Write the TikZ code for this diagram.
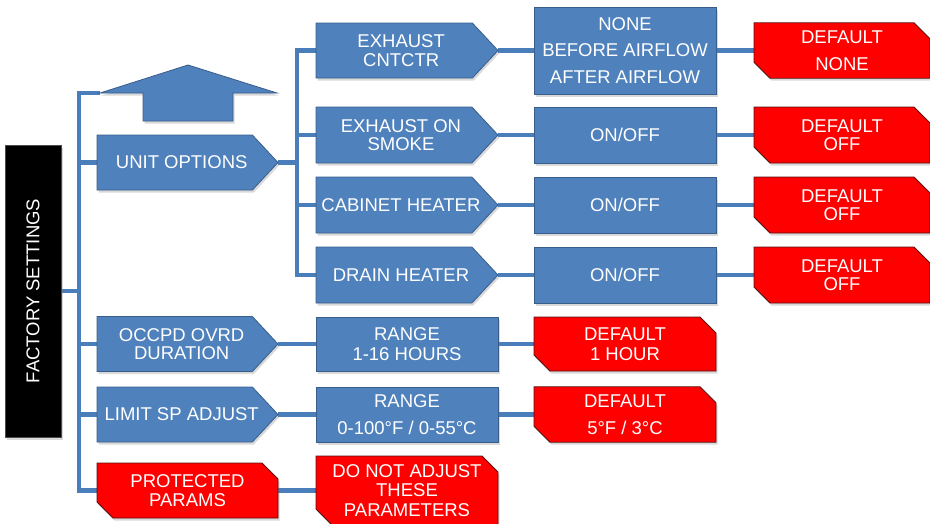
\documentclass[tikz,border=0pt]{standalone}
\usepackage{fontspec}
\setmainfont{Liberation Sans}
\usetikzlibrary{shapes.arrows,shapes.misc,shapes.symbols,shadows,backgrounds}
\definecolor{bluef}{HTML}{4F81BD}
\definecolor{blued}{HTML}{385D8A}
\definecolor{redf}{HTML}{FF0000}
\definecolor{redd}{HTML}{5A1010}
\definecolor{linec}{HTML}{4A7EBB}
\tikzset{
  txt/.style={text=white, font=\fontsize{18.5}{18.5}\selectfont, align=center,
    inner sep=0pt, outer sep=0pt},
  base/.style={txt, line width=0.8pt,
    drop shadow={shadow xshift=1.5pt, shadow yshift=-2.5pt, opacity=0.3}},
  penta/.style={base, signal, signal to=east, signal pointer angle=94,
    fill=bluef, draw=blued, minimum width=181pt, minimum height=55pt, anchor=west},
  ptext/.style={label={[txt, xshift=7pt]center:#1}},
  bluebox/.style={base, rectangle, fill=bluef, draw=blued, minimum width=182pt},
  redbox/.style={base, chamfered rectangle,
    chamfered rectangle corners={north east,south west},
    chamfered rectangle xsep=8pt, chamfered rectangle ysep=8pt,
    fill=redf, draw=redd},
  fsbox/.style={base, rectangle, fill=black, draw=black!70,
    minimum width=56pt, minimum height=292pt},
  conn/.style={draw=linec, line width=4.5pt},
}
\begin{document}
\begin{tikzpicture}[x=1pt,y=-1pt]
\useasboundingbox (0,0) rectangle (930,523);

% left column
\node[fsbox] (fs) at (33,291) {\rotatebox{90}{FACTORY SETTINGS}};

% up arrow
\path[fill=bluef, draw=blued, line width=0.8pt,
  drop shadow={shadow xshift=1.5pt, shadow yshift=-2.5pt, opacity=0.3}]
  (100,93) -- (188,65) -- (277,93) -- (233,93) -- (233,121)
  -- (143,121) -- (143,93) -- cycle;
\coordinate (aw) at (100,93);

% level 1
\node[penta, ptext={UNIT OPTIONS}] (uo) at (97,162.5) {};
\node[penta, ptext={OCCPD OVRD\\DURATION}] (occ) at (97,344) {};
\node[penta, ptext={LIMIT SP ADJUST}] (lim) at (97,414.5) {};
\node[redbox, minimum width=181pt, minimum height=55pt] (prot) at (187.5,490.5) {PROTECTED\\PARAMS};

% level 2
\node[penta, minimum width=182pt, ptext={EXHAUST\\CNTCTR}] (exc) at (316,50.5) {};
\node[penta, minimum width=182pt, minimum height=56pt, ptext={EXHAUST ON\\SMOKE}] (exs) at (316,135) {};
\node[penta, minimum width=182pt, minimum height=56pt, ptext={CABINET HEATER}] (cab) at (316,205) {};
\node[penta, minimum width=182pt, minimum height=56pt, ptext={DRAIN HEATER}] (drn) at (316,275) {};

\node[bluebox, minimum height=54pt] (rng1) at (407,344) {RANGE\\[1pt]1-16 HOURS};
\node[bluebox, minimum height=55pt] (rng2) at (407,414.5) {RANGE\\[8pt]0-100°F / 0-55°C};
\node[redbox, minimum width=182pt, minimum height=69pt] (dna) at (407,490.5) {DO NOT ADJUST\\[1pt]THESE\\[1pt]PARAMETERS};

% level 3
\node[bluebox, minimum height=87pt] (o1) at (625,50.5) {NONE\\[8pt]BEFORE AIRFLOW\\[8pt]AFTER AIRFLOW};
\node[bluebox, minimum height=56pt] (o2) at (625,135) {ON/OFF};
\node[bluebox, minimum height=56pt] (o3) at (625,205) {ON/OFF};
\node[bluebox, minimum height=56pt] (o4) at (625,275) {ON/OFF};

\node[redbox, minimum width=182pt, minimum height=54pt] (def1) at (625,344) {DEFAULT\\[1pt]1 HOUR};
\node[redbox, minimum width=182pt, minimum height=55pt] (def2) at (625,414.5) {DEFAULT\\[8pt]5°F / 3°C};

% level 4
\node[redbox, minimum width=176pt, minimum height=55pt] (d1) at (842,50.5) {DEFAULT\\[8pt]NONE};
\node[redbox, minimum width=176pt, minimum height=56pt] (d2) at (842,135) {DEFAULT\\OFF};
\node[redbox, minimum width=176pt, minimum height=56pt] (d3) at (842,205) {DEFAULT\\OFF};
\node[redbox, minimum width=176pt, minimum height=56pt] (d4) at (842,275) {DEFAULT\\OFF};

\coordinate (tA) at (79,93);
\coordinate (tB) at (297,50.5);

\begin{scope}[on background layer]
  \draw[conn] (aw) -- (tA) |- (prot.west);
  \draw[conn] (fs.east) -- (fs.east -| tA);
  \draw[conn] (uo.west) -- (uo.west -| tA);
  \draw[conn] (occ.west) -- (occ.west -| tA);
  \draw[conn] (lim.west) -- (lim.west -| tA);

  \draw[conn] (exc.west) -- (tB) |- (drn.west);
  \draw[conn] (uo.east) -- (uo.east -| tB);
  \draw[conn] (exs.west) -- (exs.west -| tB);
  \draw[conn] (cab.west) -- (cab.west -| tB);

  \draw[conn] (exc.east) -- (o1.west);
  \draw[conn] (exs.east) -- (o2.west);
  \draw[conn] (cab.east) -- (o3.west);
  \draw[conn] (drn.east) -- (o4.west);

  \draw[conn] (o1.east) -- (d1.west);
  \draw[conn] (o2.east) -- (d2.west);
  \draw[conn] (o3.east) -- (d3.west);
  \draw[conn] (o4.east) -- (d4.west);

  \draw[conn] (occ.east) -- (rng1.west);
  \draw[conn] (lim.east) -- (rng2.west);
  \draw[conn] (prot.east) -- (dna.west);
  \draw[conn] (rng1.east) -- (def1.west);
  \draw[conn] (rng2.east) -- (def2.west);
\end{scope}
\end{tikzpicture}
\end{document}
